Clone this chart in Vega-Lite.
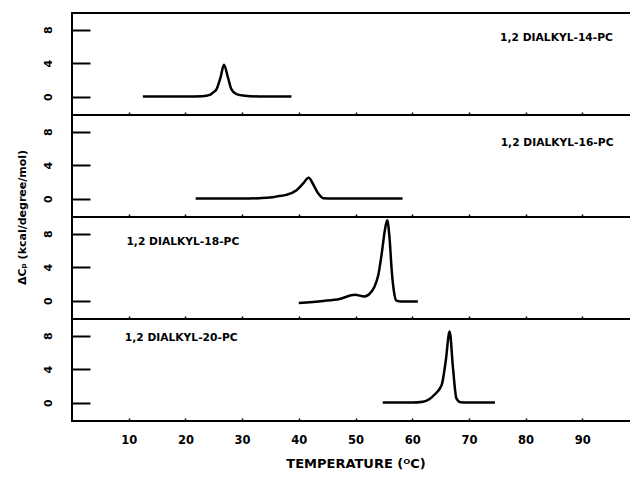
{
  "$schema": "https://vega.github.io/schema/vega-lite/v6.json",
  "background": "white",
  "padding": {"left": 14, "top": 12, "right": 0, "bottom": 0},
  "spacing": 0,
  "bounds": "flush",
  "resolve": {"scale": {"x": "shared"}},
  "config": {
    "view": {"stroke": "black", "strokeWidth": 2},
    "font": "DejaVu Sans",
    "axis": {
      "labelFont": "DejaVu Sans", "labelFontWeight": "bold", "labelColor": "black", "labelFontSize": 11,
      "titleFont": "DejaVu Sans", "titleFontWeight": "bold", "titleColor": "black",
      "tickColor": "black", "domain": false, "grid": false
    },
    "line": {"color": "black", "strokeWidth": 2.5, "interpolate": "monotone"},
    "text": {"font": "DejaVu Sans", "fontWeight": "bold", "fontSize": 10.7, "color": "black", "align": "left", "baseline": "middle"}
  },
  "datasets": {
    "p14": [
      {"t": 12.5, "cp": 0}, {"t": 20, "cp": 0}, {"t": 23, "cp": 0.05}, {"t": 24.3, "cp": 0.2},
      {"t": 24.9, "cp": 0.5}, {"t": 25.5, "cp": 0.9}, {"t": 26.2, "cp": 2.3}, {"t": 26.8, "cp": 3.8},
      {"t": 27.5, "cp": 2.3}, {"t": 28.1, "cp": 0.9}, {"t": 29.0, "cp": 0.3}, {"t": 30.5, "cp": 0.1},
      {"t": 33, "cp": 0.02}, {"t": 38.7, "cp": 0}
    ],
    "p16": [
      {"t": 21.8, "cp": 0}, {"t": 30, "cp": 0}, {"t": 33, "cp": 0.05}, {"t": 34.9, "cp": 0.12},
      {"t": 36.5, "cp": 0.3}, {"t": 37.8, "cp": 0.45}, {"t": 39.6, "cp": 1.0}, {"t": 40.7, "cp": 1.75},
      {"t": 41.75, "cp": 2.5}, {"t": 42.5, "cp": 1.75}, {"t": 43.4, "cp": 0.65}, {"t": 44.3, "cp": 0.05},
      {"t": 46, "cp": 0}, {"t": 58.3, "cp": 0}
    ],
    "p18": [
      {"t": 40.0, "cp": -0.3}, {"t": 44.3, "cp": -0.05}, {"t": 47.2, "cp": 0.2}, {"t": 49.9, "cp": 0.7},
      {"t": 51.6, "cp": 0.5}, {"t": 52.6, "cp": 0.9}, {"t": 53.3, "cp": 1.6}, {"t": 54.0, "cp": 3.0},
      {"t": 54.6, "cp": 5.5}, {"t": 55.2, "cp": 8.5}, {"t": 55.6, "cp": 9.6}, {"t": 56.0, "cp": 7.5},
      {"t": 56.4, "cp": 3.5}, {"t": 56.8, "cp": 1.0}, {"t": 57.2, "cp": 0.0}, {"t": 58, "cp": -0.1},
      {"t": 61, "cp": -0.1}
    ],
    "p20": [
      {"t": 54.8, "cp": 0}, {"t": 60, "cp": 0}, {"t": 61.9, "cp": 0.1}, {"t": 63, "cp": 0.4},
      {"t": 64.0, "cp": 1.0}, {"t": 65.2, "cp": 2.1}, {"t": 65.9, "cp": 4.9}, {"t": 66.6, "cp": 8.5},
      {"t": 67.2, "cp": 4.1}, {"t": 67.8, "cp": 0.5}, {"t": 68.5, "cp": 0.05}, {"t": 70, "cp": 0},
      {"t": 74.6, "cp": 0}
    ]
  },
  "vconcat": [
    {
      "width": 567, "height": 102,
      "layer": [
        {
          "data": {"name": "p14"},
          "mark": "line",
          "encoding": {
            "x": {"field": "t", "type": "quantitative", "scale": {"domain": [0, 100], "nice": false},
              "axis": {"values": [10, 20, 30, 40, 50, 60, 70, 80, 90], "tickSize": -3, "tickWidth": 1.5, "labels": false, "title": null}},
            "y": {"field": "cp", "type": "quantitative", "scale": {"domain": [-2.2, 10], "nice": false, "zero": false},
              "axis": {"values": [0, 4, 8], "tickSize": -18, "tickWidth": 2, "labelPadding": 42, "labelAngle": 270, "labelAlign": "center", "labelBaseline": "middle", "title": null}}
          }
        },
        {
          "data": {"values": [{"label": "1,2 DIALKYL-14-PC"}]},
          "mark": "text",
          "encoding": {
            "x": {"datum": 75.5, "type": "quantitative"},
            "y": {"datum": 7.0, "type": "quantitative"},
            "text": {"field": "label"}
          }
        }
      ]
    },
    {
      "width": 567, "height": 102,
      "layer": [
        {
          "data": {"name": "p16"},
          "mark": "line",
          "encoding": {
            "x": {"field": "t", "type": "quantitative", "scale": {"domain": [0, 100], "nice": false},
              "axis": {"values": [10, 20, 30, 40, 50, 60, 70, 80, 90], "tickSize": -3, "tickWidth": 1.5, "labels": false, "title": null}},
            "y": {"field": "cp", "type": "quantitative", "scale": {"domain": [-2.2, 10], "nice": false, "zero": false},
              "axis": {"values": [0, 4, 8], "tickSize": -18, "tickWidth": 2, "labelPadding": 42, "labelAngle": 270, "labelAlign": "center", "labelBaseline": "middle", "title": null}}
          }
        },
        {
          "data": {"values": [{"label": "1,2 DIALKYL-16-PC"}]},
          "mark": "text",
          "encoding": {
            "x": {"datum": 75.6, "type": "quantitative"},
            "y": {"datum": 6.65, "type": "quantitative"},
            "text": {"field": "label"}
          }
        }
      ]
    },
    {
      "width": 567, "height": 102,
      "layer": [
        {
          "data": {"name": "p18"},
          "mark": "line",
          "encoding": {
            "x": {"field": "t", "type": "quantitative", "scale": {"domain": [0, 100], "nice": false},
              "axis": {"values": [10, 20, 30, 40, 50, 60, 70, 80, 90], "tickSize": -3, "tickWidth": 1.5, "labels": false, "title": null}},
            "y": {"field": "cp", "type": "quantitative", "scale": {"domain": [-2.2, 10], "nice": false, "zero": false},
              "axis": {"values": [0, 4, 8], "tickSize": -18, "tickWidth": 2, "labelPadding": 42, "labelAngle": 270, "labelAlign": "center", "labelBaseline": "middle",
                "title": "ΔCₚ (kcal/degree/mol)", "titleFontSize": 11, "titleAngle": 270, "titleX": -50, "titleY": 0, "titleAlign": "center", "titleBaseline": "middle"}}
          }
        },
        {
          "data": {"values": [{"label": "1,2 DIALKYL-18-PC"}]},
          "mark": "text",
          "encoding": {
            "x": {"datum": 9.6, "type": "quantitative"},
            "y": {"datum": 7.05, "type": "quantitative"},
            "text": {"field": "label"}
          }
        }
      ]
    },
    {
      "width": 567, "height": 102,
      "layer": [
        {
          "data": {"name": "p20"},
          "mark": "line",
          "encoding": {
            "x": {"field": "t", "type": "quantitative", "scale": {"domain": [0, 100], "nice": false},
              "axis": {"values": [10, 20, 30, 40, 50, 60, 70, 80, 90], "tickSize": -3, "tickWidth": 1.5, "labelPadding": 16, "labelFontSize": 11.5,
                "title": "TEMPERATURE (ᴼC)", "titleFontSize": 13, "titleY": 42, "titleBaseline": "middle"}},
            "y": {"field": "cp", "type": "quantitative", "scale": {"domain": [-2.2, 10], "nice": false, "zero": false},
              "axis": {"values": [0, 4, 8], "tickSize": -18, "tickWidth": 2, "labelPadding": 42, "labelAngle": 270, "labelAlign": "center", "labelBaseline": "middle", "title": null}}
          }
        },
        {
          "data": {"values": [{"label": "1,2 DIALKYL-20-PC"}]},
          "mark": "text",
          "encoding": {
            "x": {"datum": 9.3, "type": "quantitative"},
            "y": {"datum": 7.7, "type": "quantitative"},
            "text": {"field": "label"}
          }
        }
      ]
    }
  ]
}
